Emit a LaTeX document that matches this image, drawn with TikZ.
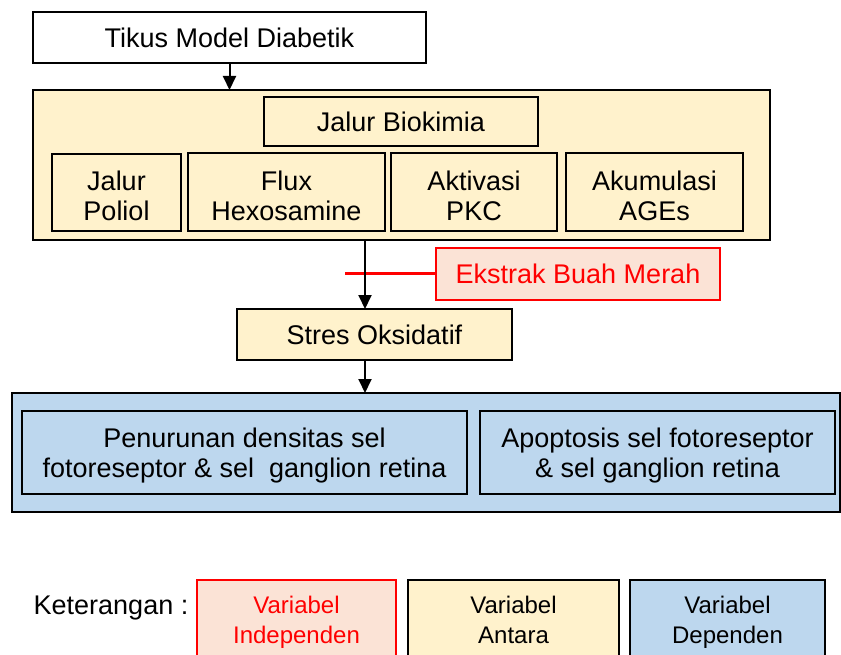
\documentclass[tikz,border=0pt]{standalone}
\usepackage{fontspec}
\setmainfont{Liberation Sans}
\usepackage{tikz}
\usetikzlibrary{shapes, calc, arrows.meta, math}
\definecolor{antara}{HTML}{FFF2CC}
\definecolor{dependen}{HTML}{BDD7EE}
\definecolor{independen}{HTML}{FBE3D6}
\newcommand\teks{\fontsize{27}{30}\selectfont}
\newcommand\tekskecil{\fontsize{24}{30}\selectfont}

\begin{document}
\begin{tikzpicture}[x=1pt, y=-1pt, >={Triangle[width=13pt,length=14pt]},
    kotak/.style={draw, line width=2pt, inner sep=0pt, outer sep=0pt, align=center, font=\teks},
    kuning/.style={kotak, fill=antara},
    biru/.style={kotak, fill=dependen},
    merah/.style={kotak, draw=red, line width=2.8pt, fill=independen, text=red},
    panah/.style={->, line width=2pt}]

\tikzmath{
            \ax = 365;
          }

\useasboundingbox (0,0) rectangle (841,655);

\node[kotak, minimum width=393, minimum height=51] (tikus) at (229.5,37.5) {Tikus Model Diabetik};

\node[kuning, minimum width=737, minimum height=150] (jalur) at (401.5,165) {};
\node[kuning, minimum width=274, minimum height=49] (biokimia) at (401,121.5) {Jalur Biokimia};
\node[kuning, minimum width=129, minimum height=77] (poliol) at (116.5,192.5) {\rule{0pt}{27pt}Jalur\\Poliol};
\node[kuning, minimum width=197, minimum height=78] (hexo) at (286.5,192) {\rule{0pt}{27pt}Flux\\Hexosamine};
\node[kuning, minimum width=166, minimum height=78] (pkc) at (474,192) {\rule{0pt}{27pt}Aktivasi\\PKC};
\node[kuning, minimum width=177, minimum height=78] (ages) at (654.5,192) {\rule{0pt}{27pt}Akumulasi\\AGEs};

\node[merah, minimum width=284, minimum height=52] (ekstrak) at (578,274) {Ekstrak Buah Merah};
\node[kuning, minimum width=275, minimum height=51] (stres) at (374.5,334.5) {Stres Oksidatif};

\node[biru, minimum width=828, minimum height=119] (retina) at (426,452.5) {};
\node[biru, minimum width=445, minimum height=83] (densitas) at (244.5,452.5) {\rule{0pt}{25pt}Penurunan densitas sel\\fotoreseptor \& sel\ \ ganglion retina};
\node[biru, minimum width=355, minimum height=83] (apoptosis) at (657.5,452.5) {\rule{0pt}{25pt}Apoptosis sel fotoreseptor\\\& sel ganglion retina};

\coordinate (jalan) at (\ax,0);
\draw[panah] (tikus.south) -- (tikus.south |- jalur.north);
\draw[red, line width=3pt] (ekstrak.west) -- ++(-91,0);
\draw[panah] (jalur.south -| jalan) -- (stres.north -| jalan);
\draw[panah] (stres.south -| jalan) -- (retina.north -| jalan);

% keterangan
\node[font=\teks] (ket) at (111,608) {Keterangan :};
\node[merah, font=\tekskecil, minimum width=199, minimum height=85] (lindep) at (296.5,622.5) {Variabel\\Independen};
\node[kuning, font=\tekskecil, minimum width=211, minimum height=85] (lantara) at (513.5,622.5) {Variabel\\Antara\vphantom{p}};
\node[biru, font=\tekskecil, minimum width=195, minimum height=85] (ldep) at (727.5,622.5) {Variabel\\Dependen};

\end{tikzpicture}
\end{document}
